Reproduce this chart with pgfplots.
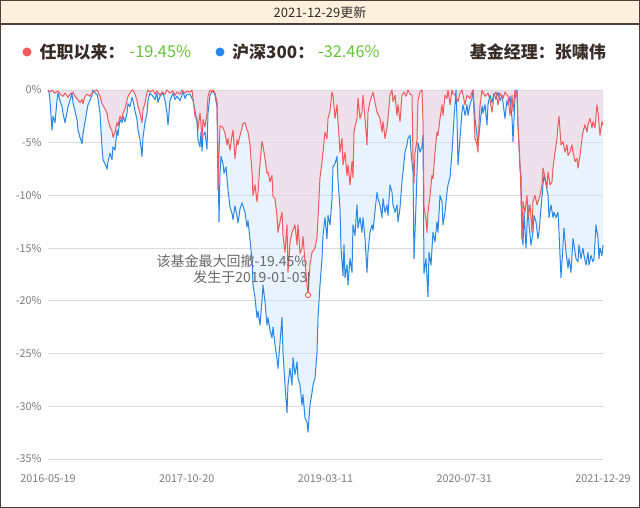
\documentclass[border=0pt]{standalone}
\usepackage{pgfplots}
\pgfplotsset{compat=1.18}
\usepackage{pgfplotstable}
\usepackage{fontspec}
\setmainfont{Noto Sans CJK SC}
\definecolor{redline}{RGB}{240,90,90}
\definecolor{blueline}{RGB}{40,135,235}
\definecolor{bluefill}{RGB}{200,225,250}
\definecolor{redfill}{RGB}{248,200,210}
\definecolor{frame}{RGB}{78,64,56}
\definecolor{headbg}{RGB}{253,241,222}
\definecolor{valgreen}{RGB}{103,194,58}
\definecolor{txtdark}{RGB}{55,45,40}
\definecolor{tickgray}{RGB}{125,125,125}
\definecolor{anngray}{RGB}{105,105,105}
\definecolor{gridgray}{RGB}{218,218,218}

\pgfplotstableread{
x y
48 0
49 -0.2
50 -1.0
52 -3.8
53 -2.5
55 -3.1
57 -1.0
58 -0.3
60 -1.0
62 -1.6
63 -2.2
65 -3.1
66 -2.6
68 -1.6
70 -1.0
72 -0.3
73 -1.2
75 -2.0
77 -2.8
78 -3.8
80 -4.5
82 -5.1
83 -4.2
85 -3.0
87 -1.9
88 -1.4
90 -1.0
92 -0.5
93 0
95 -0.3
97 -0.4
98 -0.8
100 -2.2
102 -5.4
103 -6.6
105 -7.0
107 -7.5
108 -6.8
110 -6.0
112 -6.6
113 -5.4
115 -5.7
117 -3.8
118 -4.3
120 -2.8
122 -3.1
123 -2.5
125 -3.0
127 -2.2
128 -1.3
130 -1.6
132 -0.7
133 -1.0
135 -2.0
137 -2.8
138 -3.8
140 -4.7
142 -6.3
143 -4.5
145 -3.1
147 -2.2
148 -1.0
150 -0.3
153 -0.6
155 -0.9
157 -0.3
158 -1.2
160 -0.6
163 -0.3
165 -1.0
167 -2.2
168 -3.3
170 -1.0
173 -0.3
175 -0.9
177 -0.6
180 -1.0
182 -0.5
183 -0.1
185 -0.8
187 -0.4
190 -0.4
193 -1.0
195 -2.0
197 -3.1
198 -4.7
200 -5.4
201 -4.0
202 -5.8
203 -4.3
205 -4.0
207 -5.6
208 -2.2
210 -0.5
212 -0.2
213 0
215 -0.5
217 -1.6
218 -6.0
219 -12.5
220 -8.0
221 -6.3
223 -7.0
224 -7.9
226 -7.3
228 -9.5
230 -11.1
232 -11.7
233 -12.3
235 -11.0
237 -12.0
238 -12.6
240 -11.3
242 -10.7
243 -11.0
245 -11.6
247 -13.0
248 -12.4
250 -14.2
252 -16.1
253 -18.5
255 -19.7
257 -21.6
258 -21.0
260 -22.3
262 -20.0
263 -18.5
265 -20.1
267 -22.3
268 -21.6
270 -22.8
272 -23.5
273 -22.5
275 -24.2
277 -25.5
278 -26.4
280 -24.0
282 -21.6
283 -24.9
285 -28.0
287 -30.6
288 -28.0
290 -26.4
292 -28.0
293 -25.4
295 -27.0
297 -25.8
298 -27.3
300 -28.0
302 -29.9
303 -28.9
305 -31.1
307 -31.5
308 -32.46
310 -29.9
312 -28.7
313 -28.0
315 -27.3
317 -24.9
318 -21.6
320 -18.5
322 -16.0
323 -13.8
325 -12.1
327 -14.1
328 -11.9
330 -12.8
332 -10.4
333 -7.3
335 -7.0
337 -6.3
338 -8.5
340 -11.3
341 -15.0
343 -17.6
344 -14.7
345 -17.8
347 -16.6
348 -18.5
350 -16.0
352 -17.3
353 -12.8
355 -13.8
357 -10.9
358 -13.1
360 -12.1
362 -13.5
363 -12.1
365 -14.1
367 -17.3
368 -15.4
370 -13.5
372 -12.8
373 -13.3
375 -11.5
377 -9.7
378 -10.3
380 -10.9
382 -12.1
383 -10.3
385 -11.6
387 -10.9
388 -11.9
390 -9.0
392 -9.7
393 -10.9
395 -11.6
397 -10.9
398 -12.5
400 -11.2
402 -8.7
403 -7.8
405 -5.9
407 -5.2
408 -4.6
410 -4.3
411 -5.9
413 -7.8
414 -16.0
416 -10.9
418 -5.0
420 -5.9
422 -5.4
423 -4.3
424 -17.4
426 -16.0
428 -19.6
429 -15.4
431 -16.6
433 -13.5
435 -14.4
437 -12.5
438 -13.5
440 -10.0
442 -10.6
443 -12.8
445 -11.6
447 -9.7
448 -9.0
450 -8.3
452 -5.9
453 -4.3
454 -2.7
456 0
457 -2.7
458 -7.1
460 -4.6
462 -2.1
463 -1.4
465 -2.4
467 -1.4
468 -2.4
470 -1.4
472 -0.8
473 0
475 -2.7
477 -4.3
478 -5.2
480 -3.3
482 -1.5
483 -2.2
485 -1.4
487 -3.3
488 -1.4
490 -0.5
492 -1.2
494 -0.3
496 -0.9
498 -0.2
500 -1.0
502 -0.5
503 -1.2
505 -2.7
507 -1.0
508 -1.4
510 -0.6
512 -2.7
513 -4.9
515 -0.8
517 0
518 -3.3
520 -7.4
521 -8.1
522 -13.8
523 -14.7
524 -11.6
526 -15.0
528 -10.9
529 -12.8
531 -14.7
533 -13.5
534 -11.9
536 -12.5
538 -14.1
539 -13.5
541 -11.2
543 -9.0
544 -8.1
546 -9.0
548 -10.0
549 -12.1
551 -10.9
553 -12.1
554 -11.6
556 -12.1
558 -11.6
559 -13.5
561 -17.8
563 -14.7
564 -13.1
566 -15.4
568 -16.9
569 -16.0
571 -17.3
573 -14.1
574 -14.7
576 -16.0
578 -16.3
579 -14.7
581 -16.0
583 -15.0
584 -15.7
586 -16.6
588 -15.4
589 -16.6
591 -15.7
593 -16.3
594 -16.0
596 -12.8
598 -14.1
599 -16.0
600 -15.0
602 -15.7
603 -14.7
}\hs

\pgfplotstableread{
x y
48 0
50 -0.2
52 0
55 -0.3
58 -0.1
60 -0.4
63 -0.6
65 -0.3
68 -0.7
70 -0.4
73 -0.2
75 -0.6
77 -0.8
80 -1.2
82 -0.9
83 -1.3
85 -0.6
87 -0.4
90 -0.6
92 -0.3
95 -0.1
97 0
98 -0.2
100 -0.6
102 -1.3
105 -1.8
107 -2.2
108 -2.8
110 -3.5
112 -3.9
113 -4.5
115 -4.0
117 -3.1
118 -3.4
120 -2.5
122 -2.8
123 -2.2
125 -1.8
127 -1.0
128 -0.6
130 -0.3
132 0
133 0
135 -0.4
137 -1.0
138 -1.5
140 -2.2
142 -3.1
143 -1.9
145 -1.2
147 -0.3
148 0
150 -0.2
153 0
155 -0.4
157 -0.1
160 -0.5
162 -0.2
165 -0.4
167 0
170 -0.3
173 -0.1
175 -0.5
177 -0.2
180 -0.4
182 0
185 -0.3
187 -0.1
190 -0.2
192 0
193 -0.8
195 -2.5
197 -2.7
198 -3.8
200 -2.2
202 -4.5
203 -2.8
205 -3.5
207 -2.2
208 -0.6
210 0
212 -0.2
213 0
215 -0.3
217 -1.1
218 -9.5
219 -6.0
220 -3.4
222 -3.5
223 -3.6
225 -4.1
227 -5.2
228 -4.6
230 -5.7
232 -4.3
233 -3.8
235 -6.5
237 -4.7
238 -5.2
240 -4.3
242 -3.6
243 -3.2
245 -3.1
247 -3.8
248 -4.0
250 -5.2
252 -7.8
253 -10.0
255 -9.0
257 -10.6
258 -9.7
260 -7.0
262 -4.9
263 -5.3
265 -6.5
267 -7.9
268 -7.8
270 -8.7
272 -8.1
273 -10.1
275 -10.3
277 -12.0
278 -13.5
280 -12.5
282 -11.6
283 -13.8
285 -15.4
287 -12.8
288 -17.3
290 -14.5
292 -13.5
293 -13.3
295 -12.8
297 -14.7
298 -12.8
300 -15.5
302 -15.0
303 -13.9
305 -16.3
307 -18.5
308 -19.45
310 -16.6
312 -15.4
315 -15.0
317 -14.0
318 -12.1
320 -8.3
322 -6.8
323 -5.9
325 -4.0
327 -4.6
328 -2.7
330 -2.0
332 -0.2
333 -0.5
335 -2.7
337 -1.4
338 -3.0
340 -5.9
342 -4.6
343 -7.1
345 -5.9
347 -8.1
348 -7.1
350 -9.0
352 -6.8
353 -8.3
354 -4.0
355 -3.5
357 -2.7
358 -0.8
360 -2.7
362 -2.1
363 -0.5
365 -2.7
367 -5.2
368 -2.1
370 -1.1
372 -0.5
373 -0.2
375 -1.2
377 -2.1
380 -2.7
382 -4.0
383 -3.0
385 -4.6
387 -3.6
388 -2.7
390 -0.5
392 0
393 -1.1
395 -0.5
397 -2.4
398 -1.4
400 -3.0
402 -0.5
404 -0.2
406 -0.6
408 0
410 -0.4
412 -0.5
413 -6.4
414 -8.8
415 -6.0
417 -4.7
418 -1.0
420 -0.2
422 0
423 -3.0
424 -11.1
426 -12.3
427 -13.5
428 -11.6
430 -10.0
432 -8.1
433 -8.4
435 -5.9
437 -4.0
438 -4.3
440 -2.7
442 -1.4
443 -2.4
445 -0.5
447 -0.8
448 0
450 -1.4
452 0
453 -0.3
455 -0.5
458 -1.1
460 -0.3
462 0
465 -1.4
467 -0.5
470 -0.8
472 -0.2
473 0
475 -4.6
477 -5.2
478 -5.9
479 -3.3
480 -1.5
482 0
485 -0.6
488 -0.3
490 -1.0
492 -2.1
494 -0.5
496 -0.2
498 -1.4
500 -0.3
503 -0.8
505 -0.2
508 -0.6
510 -2.4
512 -0.5
513 -2.0
515 0
517 -0.5
518 -3.3
520 -7.1
521 -10.0
522 -14.1
523 -10.6
525 -11.6
527 -10.0
528 -12.1
530 -10.9
532 -13.5
533 -10.6
535 -10.0
537 -10.9
538 -10.6
540 -10.0
542 -9.0
543 -7.4
545 -8.3
547 -9.3
548 -7.8
550 -9.0
552 -8.7
553 -7.4
555 -5.9
557 -4.6
558 -3.3
559 -2.5
561 -5.2
563 -4.9
565 -5.9
567 -5.2
568 -6.2
570 -5.9
572 -5.2
573 -5.9
575 -6.8
577 -6.5
578 -7.4
580 -6.2
582 -4.6
583 -4.0
585 -3.3
587 -4.0
588 -3.3
590 -2.7
592 -3.6
593 -3.0
595 -3.6
597 -1.4
598 -2.1
600 -4.3
602 -3.0
603 -3.3
}\fund

\begin{document}
\begin{tikzpicture}[x=1pt,y=1pt]
\useasboundingbox (0,0) rectangle (640,508);
\fill[white] (0,0) rectangle (640,508);
% header
\fill[headbg] (0,484) rectangle (640,508);
\draw[frame,line width=1.2pt] (0,484) -- (640,484);
\draw[frame,line width=2pt] (0,0) rectangle (640,508);
\node[font=\fontsize{13}{15}\selectfont, text=txtdark] at (320,495.5) {2021-12-29更新};
% legend row
\fill[redline] (27,456) circle (4.5);
\node[anchor=west, font=\fontsize{17}{20}\selectfont\bfseries, text=txtdark, inner sep=0] at (39.5,456) {任职以来：};
\node[anchor=west, font=\fontsize{16.3}{19}\selectfont, text=valgreen, inner sep=0] at (129.5,456) {-19.45\%};
\fill[blueline] (220,456) circle (4.5);
\node[anchor=west, font=\fontsize{17}{20}\selectfont\bfseries, text=txtdark, inner sep=0] at (232,456) {沪深300：};
\node[anchor=west, font=\fontsize{16.3}{19}\selectfont, text=valgreen, inner sep=0] at (318,456) {-32.46\%};
\node[anchor=east, font=\fontsize{17}{20}\selectfont\bfseries, text=txtdark, inner sep=0] at (606,456) {基金经理：张啸伟};

\begin{axis}[
  at={(48pt,49pt)}, anchor=south west,
  scale only axis, width=555pt, height=369pt,
  xmin=48, xmax=603, ymin=-35, ymax=0,
  axis line style={draw=none},
  major tick length=0pt,
  ymajorgrids, grid style={gridgray, line width=0.8pt},
  ytick={-35,-30,-25,-20,-15,-10,-5,0},
  yticklabels={-35\%,-30\%,-25\%,-20\%,-15\%,-10\%,-5\%,0\%},
  xtick={48,186.75,325.5,464.25,603},
  xticklabels={2016-05-19,2017-10-20,2019-03-11,2020-07-31,2021-12-29},
  tick label style={font=\fontsize{10.8}{12}\selectfont, text=tickgray},
  yticklabel style={xshift=-3pt},
  xticklabel style={yshift=-12pt},
  /pgf/number format/assume math mode=true,
  clip=false,
]
\addplot[draw=none, fill=bluefill, fill opacity=0.4] table[x=x,y=y] {\hs} \closedcycle;
\addplot[draw=none, fill=redfill, fill opacity=0.4] table[x=x,y=y] {\fund} \closedcycle;
\addplot[blueline, line width=1pt, line join=round] table[x=x,y=y] {\hs};
\addplot[redline, line width=1pt, line join=round] table[x=x,y=y] {\fund};
\draw[anngray, line width=0.6pt] (axis cs:308,-17.3) -- (axis cs:308,-19.0);
\addplot[only marks, mark=*, mark size=2.6pt, mark options={draw=redline, fill=white, line width=1pt}] coordinates {(308,-19.45)};
\node[anchor=east, inner sep=0, font=\fontsize{14}{16}\selectfont, text=anngray] at (axis cs:307.5,-16.2) {该基金最大回撤-19.45\%};
\node[anchor=east, inner sep=0, font=\fontsize{14}{16}\selectfont, text=anngray] at (axis cs:307.5,-17.75) {发生于2019-01-03};
\end{axis}
\end{tikzpicture}
\end{document}
